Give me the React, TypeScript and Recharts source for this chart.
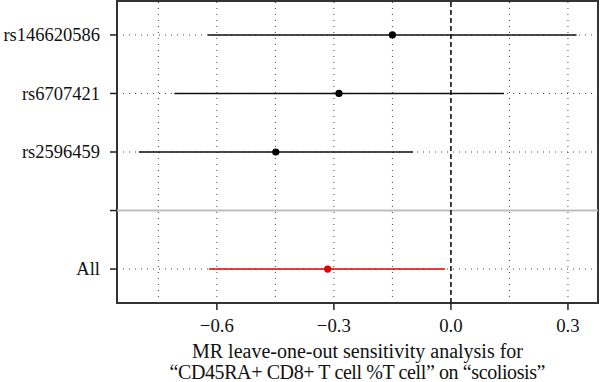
import { ScatterChart, Scatter, XAxis, YAxis, ReferenceLine, ReferenceArea } from 'recharts';

const snps = ['rs146620586', 'rs6707421', 'rs2596459', 'All'];
const rowPos = [5, 4, 3, 1];
const estimate = [-0.15, -0.287, -0.449, -0.316];
const lower = [-0.623, -0.709, -0.8, -0.62];
const upper = [0.322, 0.136, -0.097, -0.015];
const xTicks = [-0.6, -0.3, 0, 0.3];
const gridX = [-0.75, -0.6, -0.45, -0.3, -0.15, 0.15, 0.3];
const yTicks = [1, 2, 3, 4, 5];
const yTickLabels = ['All', '', 'rs2596459', 'rs6707421', 'rs146620586'];

const xDomain: [number, number] = [-0.856, 0.377];
const yDomain: [number, number] = [0.42, 5.58];
const font = '"Liberation Serif", "Times New Roman", serif';

const points = snps.map((name, i) => ({ name, x: estimate[i], y: rowPos[i], all: name === 'All' }));

const fmtX = (v: number) => (v < 0 ? '\u2212' + Math.abs(v).toFixed(1) : v.toFixed(1));

function XTick(props: any) {
  const { x, y, payload } = props;
  return (
    <text x={x} y={y} dy="0.71em" textAnchor="middle" fontFamily={font} fontSize={18.8} fill="#111">
      {fmtX(payload.value)}
    </text>
  );
}

function YTick(props: any) {
  const { x, y, payload } = props;
  const label = yTickLabels[yTicks.indexOf(payload.value)] ?? '';
  return (
    <text x={x - 8} y={y} dy="0.34em" textAnchor="end" fontFamily={font} fontSize={18.5} fill="#111">
      {label}
    </text>
  );
}

function AxisTitle(props: any) {
  const { viewBox } = props;
  const cx = viewBox.x + viewBox.width / 2;
  const y0 = viewBox.y;
  return (
    <g fontFamily={font} fontSize={20} fill="#111" textAnchor="middle">
      <text x={cx} y={y0 + 55}>MR leave-one-out sensitivity analysis for</text>
      <text x={cx} y={y0 + 76} textLength={376} lengthAdjust="spacing">
        {'\u201CCD45RA+ CD8+ T cell %T cell\u201D on \u201Cscoliosis\u201D'}
      </text>
    </g>
  );
}

export default function App() {
  return (
    <div style={{ position: 'absolute', left: 0, top: 0, background: '#fff' }}>
      <ScatterChart width={600} height={382} margin={{ top: 1, right: 2, bottom: 0, left: 0 }}>
        <XAxis
          type="number"
          dataKey="x"
          domain={xDomain}
          ticks={xTicks}
          allowDataOverflow
          height={79}
          axisLine={false}
          tickLine={{ stroke: '#222', strokeWidth: 1.5 }}
          tickSize={7}
          tickMargin={9}
          tick={<XTick />}
          label={<AxisTitle />}
        />
        <YAxis
          type="number"
          dataKey="y"
          domain={yDomain}
          ticks={yTicks}
          allowDataOverflow
          width={117}
          axisLine={false}
          tickLine={{ stroke: '#222', strokeWidth: 1.5 }}
          tickSize={7}
          tick={<YTick />}
        />
        {gridX.map((g) => (
          <ReferenceLine key={'gx' + g} x={g} stroke="#444" strokeWidth={1} strokeDasharray="1 5" />
        ))}
        {yTicks.filter((t) => t !== 2).map((t) => (
          <ReferenceLine key={'gy' + t} y={t} stroke="#444" strokeWidth={1} strokeDasharray="1 5" />
        ))}
        <ReferenceLine y={2} stroke="#bdbdbd" strokeWidth={2} />
        <ReferenceLine x={0} stroke="#111" strokeWidth={1.6} strokeDasharray="5 3" />
        {snps.map((name, i) => (
          <ReferenceLine
            key={'ci' + name}
            segment={[{ x: lower[i], y: rowPos[i] }, { x: upper[i], y: rowPos[i] }]}
            stroke={name === 'All' ? '#e00000' : '#111'}
            strokeWidth={1.6}
          />
        ))}
        <ReferenceArea x1={xDomain[0]} x2={xDomain[1]} y1={yDomain[0]} y2={yDomain[1]} fill="none" stroke="#333" strokeWidth={2} />
        <Scatter
          data={points}
          isAnimationActive={false}
          shape={(p: any) => (
            <circle cx={p.cx} cy={p.cy} r={3.6} fill={p.payload.all ? '#e00000' : '#000'} />
          )}
        />
      </ScatterChart>
    </div>
  );
}
